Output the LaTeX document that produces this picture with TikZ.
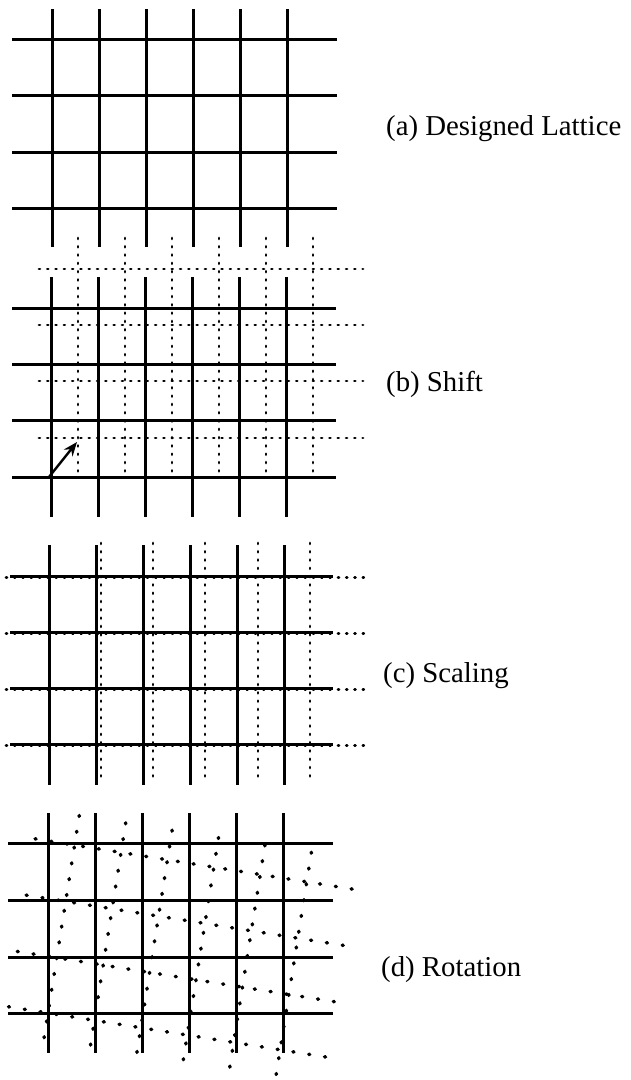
\documentclass[tikz,border=0pt]{standalone}
\usepackage{fontspec}
\setmainfont{Liberation Serif}
\usetikzlibrary{arrows.meta}
\begin{document}
\begin{tikzpicture}[x=1pt,y=-1pt,
  solidline/.style={line width=3pt},
  dotline/.style={line width=2.8pt,line cap=round,dash pattern=on 0.9pt off 7.4pt},
  dotlinebig/.style={line width=3.5pt,line cap=round,dash pattern=on 1pt off 15pt},
  lab/.style={anchor=base west,inner sep=0pt,font=\fontsize{28.8}{34}\selectfont}]
\useasboundingbox (0,0) rectangle (630,1080);
% (a) designed lattice
\foreach \x in {52,99,146,193,240,287} \draw[solidline] (\x,9) -- (\x,247);
\foreach \y in {39,95,152,208} \draw[solidline] (12,\y) -- (337,\y);
\node[lab] (la) at (386,135) {(a) Designed Lattice};
% (b) shift
\foreach \x in {78,125,172,219,266,313} \draw[dotline] (\x,238) -- (\x,478);
\foreach \y in {269,325,381,438} \draw[dotline] (39,\y) -- (363,\y);
\foreach \x in {51,98,145,192,239,286} \draw[solidline] (\x,277) -- (\x,517);
\foreach \y in {308,364,420,477} \draw[solidline] (12,\y) -- (336,\y);
\coordinate (s0) at (49,477);
\coordinate (s1) at (77,442);
\draw[line width=2.4pt,-{Stealth[length=14pt,width=11pt]}] (s0) -- (s1);
\node[lab] (lb) at (386,391) {(b) Shift};
% (c) scaling
\foreach \x in {101,153,205,258,310} \draw[dotline] (\x,543) -- (\x,783);
\foreach \y in {577.5,633.5,689.5,745.5} \draw[dotline] (6,\y) -- (365,\y);
\foreach \x in {49,96,143,190,237,284} \draw[solidline] (\x,545) -- (\x,785);
\foreach \y in {576,632,688,744} \draw[solidline] (10,\y) -- (333,\y);
\node[lab] (lc) at (383,682) {(c) Scaling};
% (d) rotation
\foreach \x in {48,95,142,189,236,283} \draw[solidline] (\x,813) -- (\x,1053);
\foreach \y in {843,900,957,1013} \draw[solidline] (8,\y) -- (333,\y);
\begin{scope}[rotate around={-9:(48,1013)}]
\foreach \x in {48,95,142,189,236,283} \draw[dotlinebig] (\x,813) -- (\x,1053);
\foreach \y in {843,900,957,1013} \draw[dotlinebig] (8,\y) -- (333,\y);
\end{scope}
\node[lab] (ld) at (381,976) {(d) Rotation};
\end{tikzpicture}
\end{document}
